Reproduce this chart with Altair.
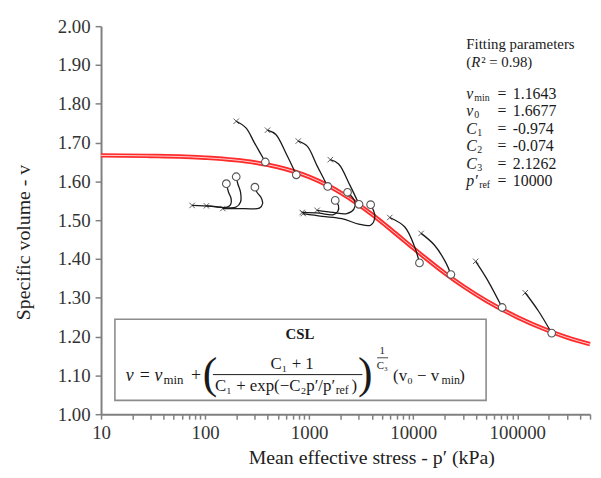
import altair as alt
import pandas as pd

FONT = "Liberation Serif"

# ---- Critical state line ----
csl_p = [10, 30, 100, 300, 500, 1000, 1500, 2000, 3000, 4000, 5000, 7000,
         10000, 20000, 30000, 50000, 100000, 200000, 300000, 500000]
csl_v = [1.6670, 1.6657, 1.6611, 1.6487, 1.6371, 1.6116, 1.5899, 1.5710,
         1.5399, 1.5151, 1.4946, 1.4625, 1.4280, 1.3641, 1.3304, 1.2929,
         1.2500, 1.2150, 1.1979, 1.1804]

# ---- Test stress paths (start = cross, end = circle) ----
path_names = ["U1", "U2", "U3", "U4", "U5", "U6", "U7", "U8",
              "L1", "L2", "L3", "M1", "M2", "M3"]
path_p = [
    [199, 247, 297, 379],
    [398, 478, 595, 752],
    [786, 957, 1192, 1507],
    [1595, 1918, 2474, 3013],
    [5948, 8262, 10289, 11482],
    [11919, 15956, 20623, 23012],
    [39811, 51447, 71524],
    [119200, 159600, 214000],
    [75, 115, 160, 176, 178, 168, 160],
    [103, 166, 199, 219, 219, 206, 199],
    [148, 239, 332, 357, 344, 315, 301],
    [858, 1245, 1692, 1889, 1910, 1780],
    [1192, 1692, 2301, 2683, 2761, 2567, 2337],
    [877, 1330, 2062, 2994, 3895, 4279, 3895],
]
path_v = [
    [1.755, 1.738, 1.700, 1.650],
    [1.732, 1.721, 1.674, 1.617],
    [1.704, 1.691, 1.640, 1.587],
    [1.656, 1.645, 1.589, 1.541],
    [1.507, 1.483, 1.432, 1.390],
    [1.466, 1.436, 1.390, 1.360],
    [1.394, 1.347, 1.275],
    [1.313, 1.266, 1.209],
    [1.538, 1.536, 1.533, 1.540, 1.555, 1.572, 1.594],
    [1.537, 1.532, 1.534, 1.547, 1.572, 1.594, 1.612],
    [1.530, 1.530, 1.531, 1.543, 1.559, 1.572, 1.585],
    [1.520, 1.518, 1.514, 1.523, 1.538, 1.551],
    [1.5255, 1.520, 1.517, 1.528, 1.546, 1.561, 1.572],
    [1.517, 1.510, 1.504, 1.490, 1.487, 1.510, 1.540],
]

x_major = [10, 100, 1000, 10000, 100000]
y_ticks = [1.0, 1.1, 1.2, 1.3, 1.4, 1.5, 1.6, 1.7, 1.8, 1.9, 2.0]

param_labels = ["v", "v", "C", "C", "C", "p′"]
param_subs = ["min", "0", "1", "2", "3", "ref"]
param_values = ["1.1643", "1.6677", "-0.974", "-0.074", "2.1262", "10000"]

# ---- build tables ----
csl_df = pd.DataFrame({"p": csl_p, "v": csl_v})
rows = []
for name, ps, vs in zip(path_names, path_p, path_v):
    for i, (p, v) in enumerate(zip(ps, vs)):
        rows.append({"path": name, "idx": i, "p": p, "v": v})
paths_df = pd.DataFrame(rows)
starts_df = pd.DataFrame({"p": [ps[0] for ps in path_p], "v": [vs[0] for vs in path_v]})
ends_df = pd.DataFrame({"p": [ps[-1] for ps in path_p], "v": [vs[-1] for vs in path_v]})

x_minor = [m * 10 ** e for e in range(1, 6) for m in range(1, 10)]
x_minor = [t for t in x_minor if t <= 500000]

W, H = 494, 392
OX, OY = 102, 24  # page position of plot origin

xscale = alt.Scale(type="log", domain=[10, 500000], nice=False)
yscale = alt.Scale(domain=[1.0, 2.0], nice=False)

x_enc = alt.X("p:Q", scale=xscale, axis=alt.Axis(
    values=x_minor, format="d",
    labelExpr="indexof([10,100,1000,10000,100000], datum.value) >= 0 ? datum.label : ''",
    title="Mean effective stress - p′ (kPa)", titleX=273, titleY=44,
    titleBaseline="middle", titleFontSize=20, titleFontWeight="normal",
    grid=False, tickSize=5, labelFontSize=19, labelPadding=5, labelFlush=False,
    labelOverlap=False))
y_enc = alt.Y("v:Q", scale=yscale, axis=alt.Axis(
    values=y_ticks, format=".2f", title="Specific volume - v",
    titleX=-78, titleY=218, titleBaseline="middle", titleAngle=-90,
    titleFontSize=20, titleFontWeight="normal", labelOverlap=False, labelFlush=False,
    labelBound=False, grid=False, tickSize=6, labelFontSize=19, labelPadding=5))

csl_outer = alt.Chart(csl_df).mark_line(color="#ff2a2a", strokeWidth=4.5, interpolate="monotone").encode(x=x_enc, y=y_enc)
csl_inner = alt.Chart(csl_df).mark_line(color="#ffd0d0", strokeWidth=1.0, interpolate="monotone").encode(x=x_enc, y=y_enc)
lines = alt.Chart(paths_df).mark_line(color="#1a1a1a", strokeWidth=1.3, interpolate="catmull-rom").encode(
    x=x_enc, y=y_enc, detail="path:N", order="idx:Q")
crosses = alt.Chart(starts_df).mark_point(shape="M-1,-1L1,1M-1,1L1,-1", size=30, filled=False,
                                          color="#1a1a1a", strokeWidth=1).encode(x=x_enc, y=y_enc)
circles = alt.Chart(ends_df).mark_point(shape="circle", size=60, filled=True, fill="white",
                                        stroke="#555555", strokeWidth=1.1, opacity=1).encode(x=x_enc, y=y_enc)

one = pd.DataFrame({"a": [0]})


def T(s, X, Y, size=15, style="normal", weight="normal", align="left", baseline="middle"):
    return alt.Chart(one).mark_text(text=s, font=FONT, fontSize=size, fontStyle=style,
                                    fontWeight=weight, align=align, baseline=baseline,
                                    color="#1a1a1a").encode(x=alt.value(X - OX), y=alt.value(Y - OY))


def R(X1, X2, Y, w=1.0):
    return alt.Chart(one).mark_rule(color="#1a1a1a", strokeWidth=w).encode(
        x=alt.value(X1 - OX), x2=alt.value(X2 - OX), y=alt.value(Y - OY))


box = alt.Chart(one).mark_rect(fill="white", stroke="#8c8c8c", strokeWidth=1.6).encode(
    x=alt.value(116 - OX), x2=alt.value(491 - OX), y=alt.value(320 - OY), y2=alt.value(402 - OY))

ann = [
    T("Fitting parameters", 471, 42, 15),
    T("(", 471, 60, 15), T("R", 476, 60, 15, "italic"), T("² = 0.98)", 486, 60, 15),
]
ys = [93, 110, 128, 145, 163, 180]
for lab, sub, val, yy in zip(param_labels, param_subs, param_values, ys):
    ann.append(T(lab, 471, yy, 16, "italic"))
    sx = 479 if lab == "v" else (482 if lab == "C" else 484)
    ann.append(T(sub, sx, yy + 4, 10))
    ann.append(T("=", 507, yy, 16, align="center"))
    ann.append(T(val, 518, yy, 16))

formula = [
    T("CSL", 303, 335, 15, weight="bold", align="center"),
    T("v", 127, 377, 18, "italic"),
    T("=", 141, 377, 18),
    T("v", 156, 377, 18, "italic"),
    T("min", 165, 381, 13),
    T("+", 193, 377, 18),
    T("(", 212, 377, 44, align="center"),
    T("C₁ + 1", 295, 365, 17, align="center"),
    T("C₁ + exp(−C₂p′/p′", 217, 388, 17),
    T("ref", 339, 392, 12),
    T(")", 355, 388, 17),
    R(215, 366, 376),
    T(")", 369, 377, 44, align="center"),
    T("1", 386, 352, 11, align="center"),
    R(381, 392, 359, 0.8),
    T("C₃", 386, 367, 11, align="center"),
    T("(v₀ − v", 397, 377, 17),
    T("min", 446, 381, 12),
    T(")", 464, 377, 17),
]

chart = alt.layer(csl_outer, csl_inner, lines, crosses, circles, box, *ann, *formula).properties(
    width=W, height=H,
    autosize=alt.AutoSizeParams(type="none"),
    padding={"left": 94, "top": 16, "right": 3, "bottom": 54},
).configure_view(stroke=None).configure_axis(
    labelFont=FONT, titleFont=FONT, domainColor="#808080", domainWidth=2,
    tickColor="#808080", tickWidth=1.5, labelColor="#333333", titleColor="#222222",
).configure_axisY(labelOverlap=False)

chart.save("out.html", embed_options={"renderer": "svg", "actions": False})
